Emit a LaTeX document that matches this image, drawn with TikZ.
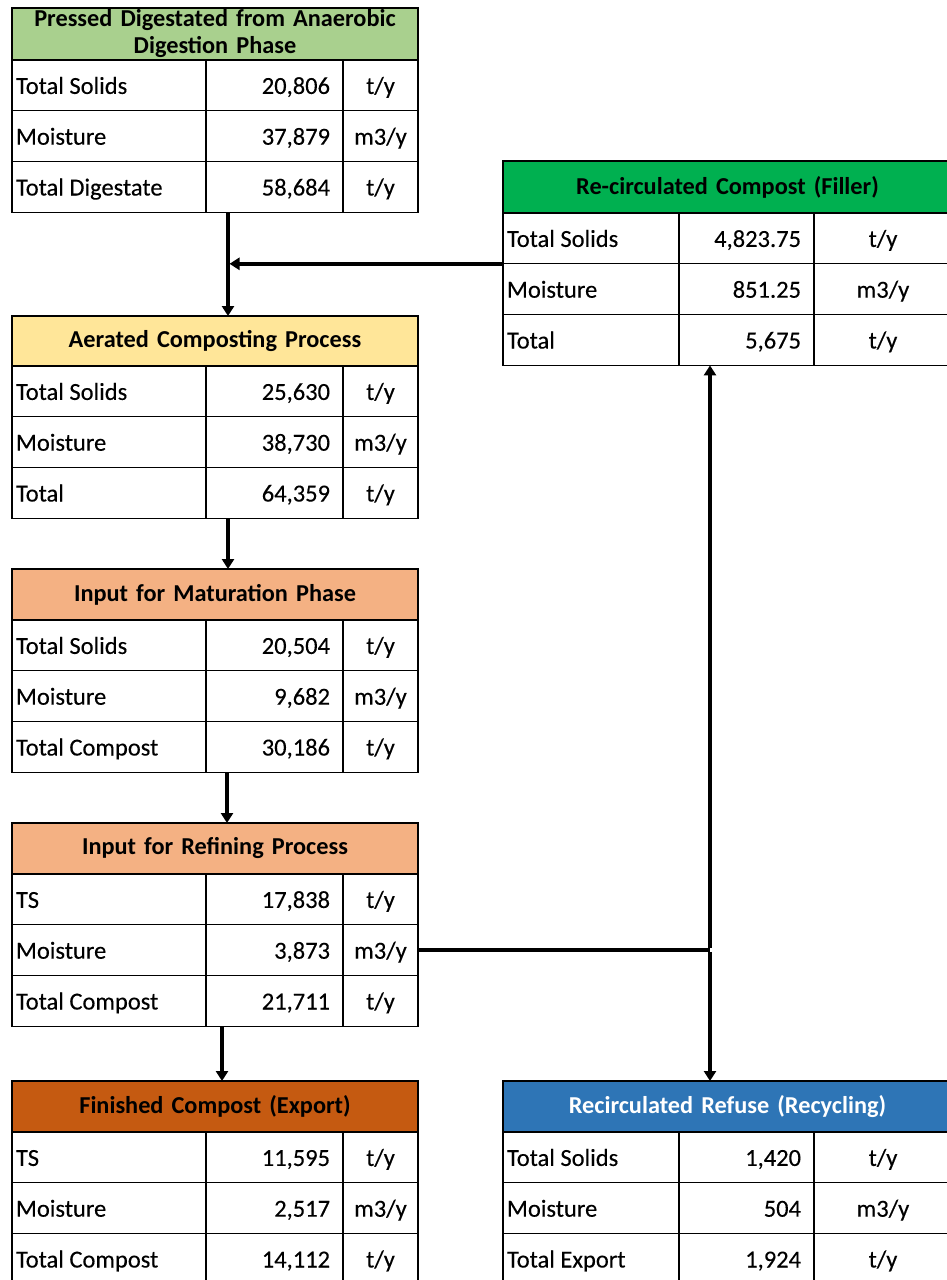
\documentclass[tikz,border=0pt]{standalone}
\usepackage{fontspec}
\setmainfont{Carlito}[FakeBold=0.25]
\newfontfamily\hdfont{Carlito}[UprightFont=* Bold]
\usetikzlibrary{arrows.meta,calc}
\definecolor{hgreenl}{HTML}{A9D08E}
\definecolor{hyellow}{HTML}{FFE699}
\definecolor{horange}{HTML}{F4B183}
\definecolor{hbrown}{HTML}{C55A11}
\definecolor{hgreen}{HTML}{00B050}
\definecolor{hblue}{HTML}{2E75B6}
\newcommand\fs{\fontsize{24.5}{26}\selectfont}
\newcommand\hfs{\hdfont\fontsize{24.3}{27}\selectfont}
\newcommand\setcols[3]{%
  \def\wa{#1}\def\wb{#2}\def\wc{#3}%
  \pgfmathsetmacro\twa{#1-8}%
  \pgfmathsetmacro\twb{#2-26}%
  \pgfmathsetmacro\twc{#3-4}%
  \pgfmathsetmacro\twh{#1+#2+#3-8}%
}
% #1 name, #2 position, #3 header height, #4 header style, #5 header text
\newcommand\thead[5]{%
  \node[hd,#4,minimum height=#3pt,text width=\twh pt] (#1h) at #2 {#5};
}
% #1 name, #2 row index, #3 node above, #4 label, #5 value, #6 unit
\newcommand\trow[6]{%
  \node[cell,inner xsep=4pt,text width=\twa pt,align=flush left] (#1r#2a) at (#3.south west) {#4};
  \node[cell,inner xsep=13pt,text width=\twb pt,align=flush right] (#1r#2b) at (#1r#2a.north east) {#5};
  \node[cell,inner xsep=2pt,text width=\twc pt,align=center] (#1r#2c) at (#1r#2b.north east) {#6};
}
\begin{document}
\begin{tikzpicture}[x=1pt,y=-1pt,
  cell/.style={draw=black,line width=1.3pt,outer sep=0pt,minimum height=50.8pt,inner ysep=0pt,text height=19pt,text depth=2pt,font=\fs,anchor=north west,text=black},
  hd/.style={draw=black,line width=1.3pt,outer sep=0pt,inner ysep=0pt,inner xsep=4pt,font=\hfs,anchor=north west,align=center},
  arr/.style={line width=3.5pt,-{Triangle[width=12pt,length=10pt]}},
  conn/.style={line width=3.5pt}]
\useasboundingbox (0,0) rectangle (947,1280);

% left column tables
\setcols{194}{137}{75}
\thead{t1}{(12,8)}{52}{fill=hgreenl}{Pressed Digestated from Anaerobic\\Digestion Phase}
\trow{t1}{1}{t1h}{Total Solids}{20,806}{t/y}
\trow{t1}{2}{t1r1a}{Moisture}{37,879}{m3/y}
\trow{t1}{3}{t1r2a}{Total Digestate}{58,684}{t/y}

\thead{t2}{(12,316)}{50}{fill=hyellow}{Aerated Composting Process}
\trow{t2}{1}{t2h}{Total Solids}{25,630}{t/y}
\trow{t2}{2}{t2r1a}{Moisture}{38,730}{m3/y}
\trow{t2}{3}{t2r2a}{Total}{64,359}{t/y}

\thead{t3}{(12,569)}{51}{fill=horange}{Input for Maturation Phase}
\trow{t3}{1}{t3h}{Total Solids}{20,504}{t/y}
\trow{t3}{2}{t3r1a}{Moisture}{9,682}{m3/y}
\trow{t3}{3}{t3r2a}{Total Compost}{30,186}{t/y}

\thead{t4}{(12,823)}{51}{fill=horange}{Input for Refining Process}
\trow{t4}{1}{t4h}{TS}{17,838}{t/y}
\trow{t4}{2}{t4r1a}{Moisture}{3,873}{m3/y}
\trow{t4}{3}{t4r2a}{Total Compost}{21,711}{t/y}

\thead{t5}{(12,1081)}{51}{fill=hbrown}{Finished Compost (Export)}
\trow{t5}{1}{t5h}{TS}{11,595}{t/y}
\trow{t5}{2}{t5r1a}{Moisture}{2,517}{m3/y}
\trow{t5}{3}{t5r2a}{Total Compost}{14,112}{t/y}

% right column tables
\setcols{176}{135}{138}
\thead{r1}{(503,161)}{52}{fill=hgreen}{Re-circulated Compost (Filler)}
\trow{r1}{1}{r1h}{Total Solids}{4,823.75}{t/y}
\trow{r1}{2}{r1r1a}{Moisture}{851.25}{m3/y}
\trow{r1}{3}{r1r2a}{Total}{5,675}{t/y}

\thead{r2}{(503,1081)}{51}{fill=hblue,text=white}{Recirculated Refuse (Recycling)}
\trow{r2}{1}{r2h}{Total Solids}{1,420}{t/y}
\trow{r2}{2}{r2r1a}{Moisture}{504}{m3/y}
\trow{r2}{3}{r2r2a}{Total Export}{1,924}{t/y}

% connectors
\coordinate (x1) at ([xshift=216pt]t1r3a.south west);
\coordinate (x1b) at ([xshift=216pt]t2h.north west);
\draw[arr] ([yshift=-1pt]x1) -- (x1b);
\coordinate (j1) at (x1 |- r1r1a.south west);
\draw[arr] (r1r1a.south west) -- ([xshift=1.5pt]j1);

\draw[arr] ([xshift=216pt,yshift=-1pt]t2r3a.south west) -- ([xshift=216pt]t3h.north west);
\draw[arr] ([xshift=215pt,yshift=-1pt]t3r3a.south west) -- ([xshift=215pt]t3h.north west |- t4h.north west);
\draw[arr] ([xshift=210pt,yshift=-1pt]t4r3a.south west) -- ([xshift=210pt]t5h.north west);

\coordinate (rx) at ([xshift=207pt]r1r3a.south west);
\coordinate (j2) at (rx |- t4r2c.east);
\coordinate (rx2) at ([xshift=207pt]r2h.north west);
\draw[conn] (t4r2c.east) -- (j2);
\draw[arr] ([yshift=1.75pt]j2) -- (rx);
\draw[arr] ([yshift=-1.75pt]j2) -- (rx2);
\end{tikzpicture}
\end{document}
